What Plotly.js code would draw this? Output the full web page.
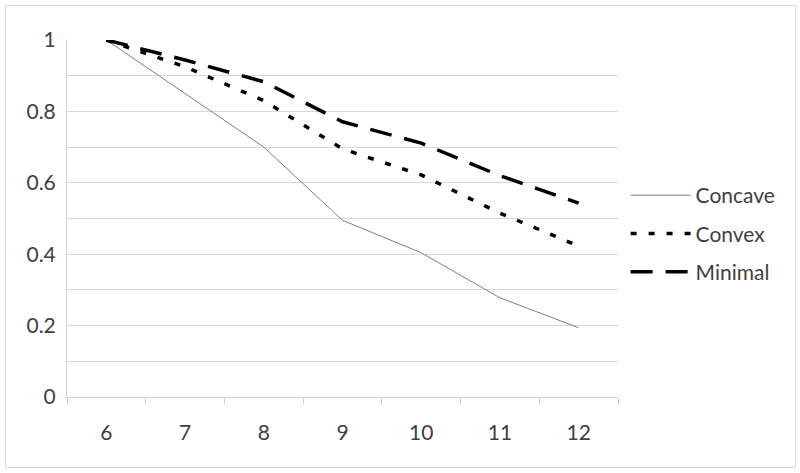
<!DOCTYPE html>
<html>
<head>
<meta charset="utf-8">
<script src="https://cdn.plot.ly/plotly-3.0.1.min.js"></script>
<style>
  html, body { margin: 0; padding: 0; background: #fff; }
  #wrap { position: relative; width: 800px; height: 473px; }
  #chart { width: 800px; height: 473px; }
  #frame { position: absolute; left: 5px; top: 5px; width: 789px; height: 461px; border: 1px solid #d9d9d9; pointer-events: none; }
</style>
</head>
<body>
<div id="wrap">
  <div id="chart"></div>
  <div id="frame"></div>
</div>
<script>
const categories = ["6", "7", "8", "9", "10", "11", "12"];
const concave = [1.0, 0.85, 0.70, 0.495, 0.404, 0.278, 0.194];
const convex  = [1.0, 0.925, 0.83, 0.695, 0.622, 0.515, 0.423];
const minimal = [1.0, 0.944, 0.883, 0.771, 0.711, 0.62, 0.543];
const seriesNames = ["Concave", "Convex", "Minimal"];

const traces = [
  { x: categories, y: concave, name: seriesNames[0], type: "scatter", mode: "lines",
    line: { color: "#7f7f7f", width: 1 }, legendgroup: "a" },
  { x: categories, y: convex, name: seriesNames[1], type: "scatter", mode: "lines",
    line: { color: "#000000", width: 3.5, dash: "6px,12px" }, legendgroup: "b" },
  { x: categories, y: minimal, name: seriesNames[2], type: "scatter", mode: "lines",
    line: { color: "#000000", width: 3.5, dash: "22px,13px" }, legendgroup: "c" }
];

const fontFam = "Lato, 'Open Sans', sans-serif";
const fs = 21;
const layout = {
  width: 800, height: 473,
  margin: { l: 67, r: 182, t: 40, b: 75.5 },
  paper_bgcolor: "#ffffff", plot_bgcolor: "#ffffff",
  font: { family: fontFam, size: fs, color: "#404040" },
  showlegend: true,
  legend: {
    xref: "container", yref: "container",
    x: 0.782, y: 0.63, xanchor: "left", yanchor: "top",
    font: { family: fontFam, size: fs, color: "#404040" },
    itemwidth: 60, traceorder: "grouped", tracegroupgap: 8,
    bgcolor: "rgba(0,0,0,0)"
  },
  xaxis: {
    type: "category", range: [-0.5, 6.5],
    showgrid: false, zeroline: false,
    showline: true, linecolor: "#d0d0d0", linewidth: 1,
    ticks: "outside", tickson: "boundaries", ticklen: 6, tickcolor: "#d0d0d0",
    ticklabelstandoff: 17,
    tickfont: { family: fontFam, size: fs, color: "#404040" }
  },
  yaxis: {
    range: [0, 1], dtick: 0.2, tick0: 0,
    showgrid: true, gridcolor: "#d9d9d9", gridwidth: 1,
    minor: { dtick: 0.1, showgrid: true, gridcolor: "#d9d9d9", gridwidth: 1 },
    zeroline: false, showline: true, linecolor: "#d0d0d0", linewidth: 1,
    ticks: "", ticklabelstandoff: 6,
    tickfont: { family: fontFam, size: fs, color: "#404040" }
  }
};

Plotly.newPlot("chart", traces, layout, { staticPlot: true, displayModeBar: false });
</script>
</body>
</html>
